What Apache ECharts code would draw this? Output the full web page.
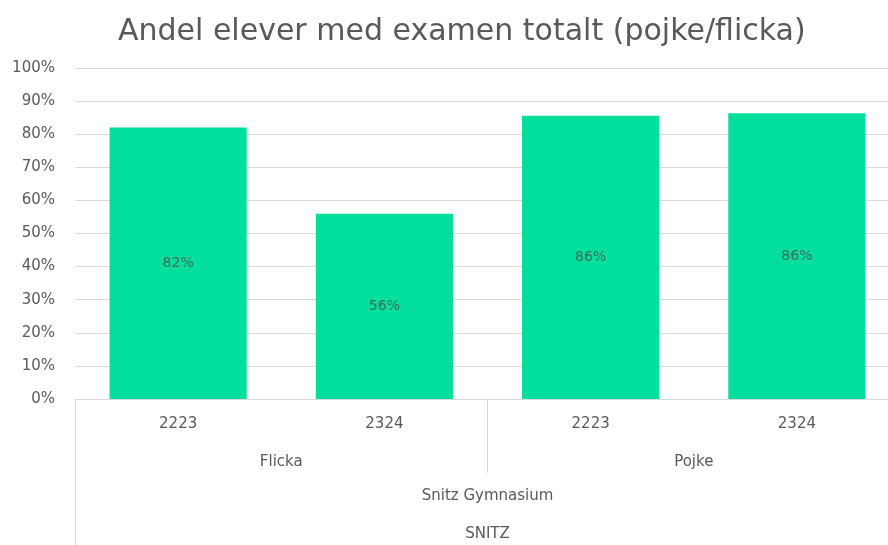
<!doctype html>
<html>
<head>
<meta charset="utf-8">
<title>Andel elever med examen totalt</title>
<script src="https://cdn.jsdelivr.net/npm/echarts@6/dist/echarts.min.js"></script>
<style>
  html, body { margin: 0; padding: 0; background: #fff; }
  #chart { width: 888px; height: 545px; }
</style>
</head>
<body>
<div id="chart"></div>
<script>
var titleText = 'Andel elever med examen totalt (pojke/flicka)';
var years = ['2223', '2324', '2223', '2324'];
var genders = ['Flicka', 'Pojke'];
var schools = ['Snitz Gymnasium'];
var orgs = ['SNITZ'];
var shares = [0.82, 0.56, 0.856, 0.863];

var font = 'DejaVu Sans';
var grey = '#595959';

var chart = echarts.init(document.getElementById('chart'));
chart.setOption({
  animation: false,
  textStyle: { fontFamily: font },
  title: {
    text: titleText,
    left: 113,
    top: 12,
    textStyle: { fontFamily: font, fontSize: 30, fontWeight: 'normal', color: grey }
  },
  // plot runs past the right edge of the picture, like the original
  grid: { left: 75, width: 825, top: 68, height: 331, containLabel: false, outerBoundsMode: 'none' },
  yAxis: {
    type: 'value',
    min: 0, max: 1, interval: 0.1,
    axisLine: { show: false },
    axisTick: { show: false },
    axisLabel: {
      color: grey, fontSize: 15, margin: 20,
      formatter: function (v) { return Math.round(v * 100) + '%'; }
    },
    splitLine: { lineStyle: { color: '#d9d9d9', width: 1 } }
  },
  xAxis: [
    {
      type: 'category', data: years, position: 'bottom',
      axisLine: { lineStyle: { color: '#d9d9d9' } },
      axisTick: { show: false },
      axisLabel: { color: grey, fontSize: 15, margin: 18 }
    },
    {
      type: 'category', data: genders, position: 'bottom',
      axisLine: { show: false },
      axisTick: { show: true, length: 74, lineStyle: { color: '#d9d9d9' } },
      axisLabel: { color: grey, fontSize: 15, margin: 56 }
    },
    {
      type: 'category', data: schools, position: 'bottom',
      axisLine: { show: false },
      axisTick: { show: false },
      axisLabel: { color: grey, fontSize: 15, margin: 90 }
    },
    {
      type: 'category', data: orgs, position: 'bottom',
      axisLine: { show: false },
      axisTick: { show: true, length: 146, lineStyle: { color: '#d9d9d9' } },
      axisLabel: { color: grey, fontSize: 15, margin: 128 }
    }
  ],
  series: [{
    type: 'bar',
    xAxisIndex: 0,
    data: shares,
    barWidth: '66.5%',
    itemStyle: { color: '#02de9c' },
    label: {
      show: true,
      position: 'inside',
      color: '#3f6a5c',
      fontSize: 14,
      formatter: function (p) { return Math.round(p.value * 100) + '%'; }
    }
  }]
});
</script>
</body>
</html>
